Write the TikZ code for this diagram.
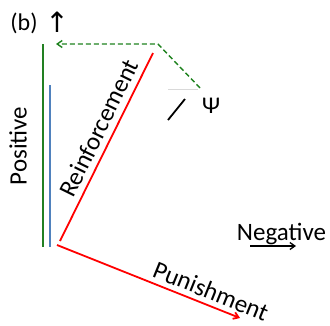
\documentclass[tikz,border=0pt]{standalone}
\usepackage{fontspec}
\setmainfont{Carlito}
\newfontfamily\symfont{DejaVu Sans}
\usetikzlibrary{arrows.meta}
\definecolor{axgreen}{RGB}{34,128,34}
\definecolor{dashgreen}{RGB}{30,130,30}
\definecolor{axblue}{RGB}{79,129,189}
\begin{document}
\begin{tikzpicture}[x=1pt,y=-1pt,
  lbl/.style={inner sep=0pt, font=\fontsize{25}{30}\selectfont},
  redline/.style={draw=red, line width=1.8pt},
  tip/.style={-{Straight Barb[length=5pt,width=7pt]}}]
\useasboundingbox (0,0) rectangle (330,325);
% coordinates
\coordinate (gtop) at (43,44);
\coordinate (gbot) at (43,247);
\coordinate (btop) at (50,85);
\coordinate (bbot) at (50,247);
\coordinate (rstart) at (60,241);
\coordinate (rend) at (153,53);
\coordinate (pstart) at (57,245);
\coordinate (pend) at (240,318);
\coordinate (dstart) at (200,88);
\coordinate (dbend) at (158,44);
\coordinate (dend) at (56,44);
\coordinate (fa) at (168,89);
\coordinate (fb) at (198,89);
\coordinate (ka) at (168,120);
\coordinate (kb) at (185,99);
\coordinate (na) at (250,246);
\coordinate (nb) at (296,246);
% axes
\draw[axgreen, line width=2.4pt] (gtop) -- (gbot);
\draw[axblue, line width=2pt] (btop) -- (bbot);
% reinforcement and punishment
\draw[redline] (rstart) -- (rend);
\draw[redline, tip] (pstart) -- (pend);
% dashed green
\draw[dashgreen, line width=1.4pt, dash pattern=on 5pt off 3pt, tip] (dstart) -- (dbend) -- (dend);
% faint line and black stroke
\draw[black!15, line width=1pt] (fa) -- (fb);
\draw[black, line width=1.8pt] (ka) -- (kb);
% negative arrow
\draw[black, line width=1.3pt, tip] (na) -- (nb);
% texts
\node[lbl, font=\fontsize{24}{28}\selectfont] (b) at (24,23) {(b)};
\node[lbl, font=\symfont\fontsize{28}{32}\selectfont] (up) at (57,22) {↑};
\node[lbl, rotate=90] (pos) at (18,146) {Positive};
\node[lbl, rotate=63.8] (reinf) at (99,128) {Reinforcement};
\node[lbl, rotate=-22] (pun) at (211,291) {Punishment};
\node[lbl, anchor=base] (neg) at (281.5,240) {Negative};
\node[lbl, font=\fontsize{24}{28}\selectfont] (psi) at (211,106) {Ψ};
\end{tikzpicture}
\end{document}
